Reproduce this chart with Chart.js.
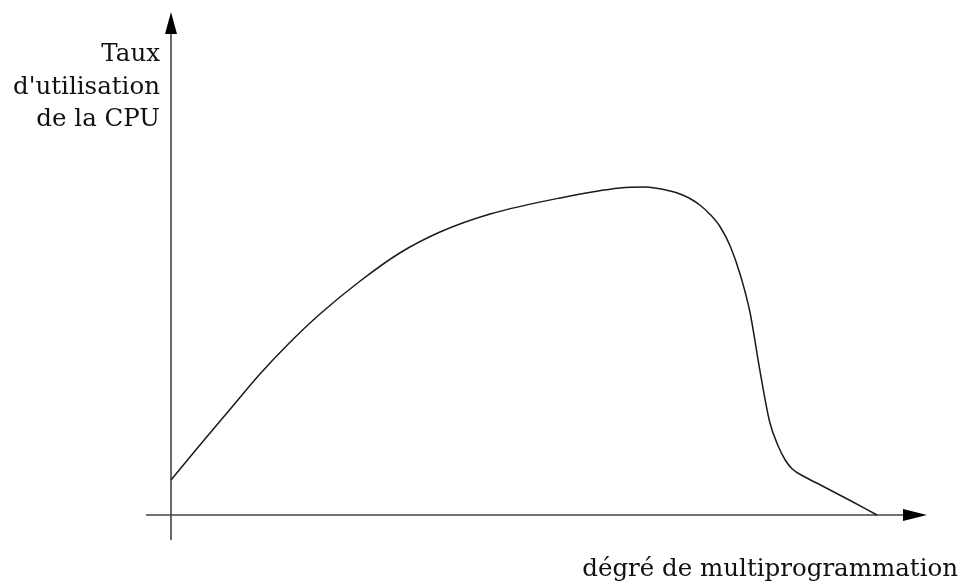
<!DOCTYPE html>
<html>
<head>
<meta charset="utf-8">
<script src="https://cdn.jsdelivr.net/npm/chart.js@4"></script>
<style>
  body { margin: 0; background: #fff; }
  #wrap { position: relative; width: 963px; height: 583px; }
  .lbl { position: absolute; font-family: "DejaVu Serif", serif; font-size: 24.5px; line-height: 32.5px; color: #111; white-space: nowrap; }
  #ylab { right: 803px; top: 37px; text-align: right; }
  #xlab { right: 5px; top: 552px; }
</style>
</head>
<body>
<div id="wrap">
  <canvas id="cpuChart" width="963" height="583"></canvas>
  <div class="lbl" id="ylab">Taux<br>d'utilisation<br>de la CPU</div>
  <div class="lbl" id="xlab">dégré de multiprogrammation</div>
</div>
<script>
// degree of multiprogramming (arbitrary units, 0-100)
const degre = [0, 4.1, 8.4, 12.6, 16.9, 21.1, 26.8, 32.4, 38.1, 45.2, 55.1, 63.6, 67.1, 70.7, 72.1, 73.5, 74.9, 76.3, 77.8, 79.2, 80.6, 82.0, 83.4, 84.8, 86.0, 87.0, 88.0, 89.8, 92.0, 96.2, 100]
// CPU usage (arbitrary units, 0-100)
const taux = [7.0, 14.0, 21.2, 28.2, 34.6, 40.2, 46.8, 52.4, 56.6, 60.2, 63.4, 65.4, 65.6, 64.8, 64.2, 63.3, 62.0, 60.2, 57.6, 53.8, 48.2, 40.6, 29.0, 18.6, 13.8, 11.0, 9.2, 7.6, 6.0, 2.9, 0]

const points = degre.map((d, i) => ({ x: d, y: taux[i] }))

// draws the two axes with arrow heads
const axesPlugin = {
  id: 'axes',
  beforeDatasetsDraw(chart) {
    const ctx = chart.ctx
    const x0 = chart.scales.x.getPixelForValue(0)
    const y0 = chart.scales.y.getPixelForValue(0)
    ctx.save()
    ctx.strokeStyle = '#444'
    ctx.fillStyle = '#000'
    ctx.lineWidth = 1.6
    ctx.beginPath()
    ctx.moveTo(x0, y0 + 25)
    ctx.lineTo(x0, 30)
    ctx.moveTo(x0 - 25, y0)
    ctx.lineTo(905, y0)
    ctx.stroke()
    // arrows
    ctx.beginPath()
    ctx.moveTo(x0, 12)
    ctx.lineTo(x0 - 6, 34)
    ctx.lineTo(x0 + 6, 34)
    ctx.closePath()
    ctx.fill()
    ctx.beginPath()
    ctx.moveTo(927, y0)
    ctx.lineTo(903, y0 - 6)
    ctx.lineTo(903, y0 + 6)
    ctx.closePath()
    ctx.fill()
    ctx.restore()
  }
}

new Chart(document.getElementById('cpuChart'), {
  type: 'line',
  data: {
    datasets: [{
      data: points,
      borderColor: '#1a1a1a',
      borderWidth: 1.5,
      pointRadius: 0,
      fill: false,
      cubicInterpolationMode: 'monotone',
      clip: false
    }]
  },
  options: {
    responsive: false,
    animation: false,
    layout: { padding: { left: 171, right: 86, top: 15, bottom: 68 } },
    plugins: { legend: { display: false }, tooltip: { enabled: false } },
    scales: {
      x: { type: 'linear', min: 0, max: 100, display: false },
      y: { min: 0, max: 100, display: false }
    }
  },
  plugins: [axesPlugin]
})
</script>
</body>
</html>
